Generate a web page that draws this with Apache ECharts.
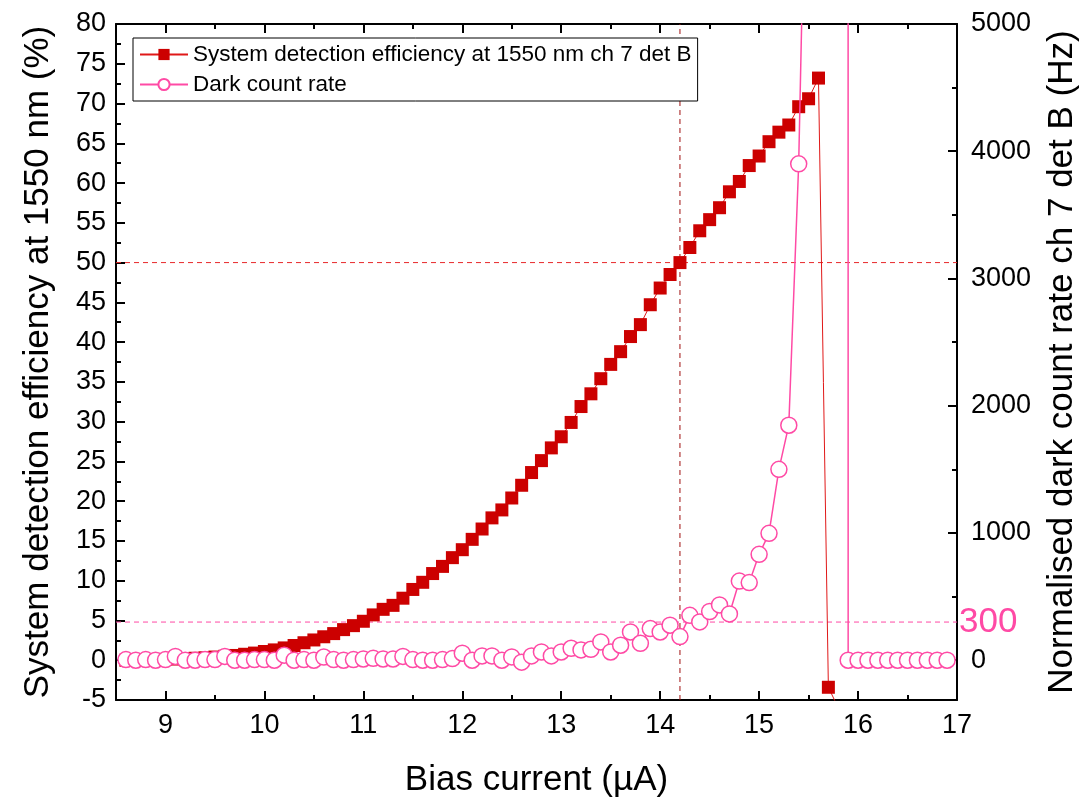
<!DOCTYPE html>
<html>
<head>
<meta charset="utf-8">
<title>SDE and dark count rate vs bias current</title>
<script src="https://cdn.jsdelivr.net/npm/echarts@6/dist/echarts.min.js"></script>
<style>
  html, body { margin: 0; padding: 0; background: #fff; }
  #chart { width: 1088px; height: 803px; }
</style>
</head>
<body>
<div id="chart"></div>
<script>
// Bias current steps (µA)
const biasCurrent = [
  8.6, 8.7, 8.8, 8.9, 9.0, 9.1, 9.2, 9.3, 9.4, 9.5, 9.6, 9.7, 9.8, 9.9,
  10.0, 10.1, 10.2, 10.3, 10.4, 10.5, 10.6, 10.7, 10.8, 10.9,
  11.0, 11.1, 11.2, 11.3, 11.4, 11.5, 11.6, 11.7, 11.8, 11.9,
  12.0, 12.1, 12.2, 12.3, 12.4, 12.5, 12.6, 12.7, 12.8, 12.9,
  13.0, 13.1, 13.2, 13.3, 13.4, 13.5, 13.6, 13.7, 13.8, 13.9,
  14.0, 14.1, 14.2, 14.3, 14.4, 14.5, 14.6, 14.7, 14.8, 14.9,
  15.0, 15.1, 15.2, 15.3, 15.4, 15.5, 15.6, 15.7, 15.8, 15.9,
  16.0, 16.1, 16.2, 16.3, 16.4, 16.5, 16.6, 16.7, 16.8, 16.9
];

// System detection efficiency at 1550 nm (%), one value per bias step up to 15.8 µA
const sdePercent = [
  0.0, 0.0, 0.05, 0.1, 0.1, 0.15, 0.2, 0.25, 0.3, 0.4, 0.5, 0.6, 0.75, 0.9,
  1.1, 1.3, 1.55, 1.85, 2.2, 2.55, 2.95, 3.35, 3.85, 4.35,
  4.9, 5.7, 6.4, 6.9, 7.8, 8.9, 9.8, 10.9, 11.8, 12.9,
  13.9, 15.2, 16.5, 17.9, 18.9, 20.4, 22.0, 23.6, 25.1, 26.7,
  28.1, 29.9, 31.9, 33.5, 35.4, 37.2, 38.8, 40.7, 42.2, 44.7,
  46.8, 48.5, 50.0, 51.9, 54.0, 55.4, 56.9, 58.9, 60.2, 62.2,
  63.4, 65.2, 66.4, 67.3, 69.6, 70.6, 73.2, -3.4, -6.0
];

// Normalised dark count rate (Hz); the detector latches above 15.5 µA
const darkCountHz = [
  5, 0, 5, 0, 5, 30, 0, 0, 5, 5, 30, 0, 0, 5,
  5, 0, 40, 0, 5, 0, 25, 5, 0, 5,
  10, 15, 10, 10, 30, 5, 0, 0, 5, 13,
  55, 0, 34, 34, 0, 26, -15, 34, 65, 34,
  65, 94, 81, 86, 144, 65, 118, 222, 133, 249,
  222, 275, 186, 353, 301, 383, 435, 364, 622, 610,
  832, 997, 1500, 1847, 3901, 7600, 200000, 600000, 1000000, 0,
  0, 0, 0, 0, 0, 0, 0, 0, 0, 0
];

// Axis ranges and ticks
const xRange = [8.5, 17];
const sdeRange = [-5, 80];
const darkRange = [-312.5, 5000];
const xMajorTicks = [9, 10, 11, 12, 13, 14, 15, 16, 17];
const xMinorTicks = [9.5, 10.5, 11.5, 12.5, 13.5, 14.5, 15.5, 16.5];
const rightMajorTicks = [0, 1000, 2000, 3000, 4000, 5000];
const rightMinorTicks = [500, 1500, 2500, 3500, 4500];

// Reference levels
const sdeTarget = 50;        // %
const biasAtTarget = 14.2;   // µA
const darkLimit = 300;       // Hz

const FONT = '"Liberation Sans", Arial, sans-serif';
const RED = '#cc0000';
const PINK = '#ff4aa5';
const TICK_FONT = 27;
const TITLE_FONT = 35;

const SDE_NAME = 'System detection efficiency at 1550 nm ch 7 det B';
const DARK_NAME = 'Dark count rate';

const sdeData = sdePercent.map((v, i) => [biasCurrent[i], v]);
const darkData = darkCountHz.map((v, i) => [biasCurrent[i], v]);

const baseAxisLine = { show: true, onZero: false, lineStyle: { color: '#000', width: 2 } };
const hiddenAxisLine = { show: false, onZero: false };

// dashed guide line drawn as a plain two-point series
function guide(data, yAxisIndex, color, extra) {
  return Object.assign({
    type: 'line', xAxisIndex: 0, yAxisIndex: yAxisIndex,
    data: data, symbol: 'none', silent: true, z: 1,
    lineStyle: { color: color, width: 1, type: [5, 4] },
    tooltip: { show: false }
  }, extra || {});
}

const chart = echarts.init(document.getElementById('chart'), null, { renderer: 'canvas' });

chart.setOption({
  animation: false,
  backgroundColor: '#fff',
  textStyle: { fontFamily: FONT },
  grid: { left: 116, right: 130, top: 24, bottom: 102, containLabel: false },
  legend: {
    orient: 'vertical',
    left: 133,
    top: 38,
    padding: [5, 6, 5, 6],
    itemGap: 7,
    itemWidth: 48,
    itemHeight: 14,
    borderColor: '#000',
    borderWidth: 1,
    borderRadius: 0,
    backgroundColor: '#fff',
    textStyle: { fontFamily: FONT, fontSize: 22.5, color: '#000' },
    data: [SDE_NAME, DARK_NAME]
  },
  xAxis: [
    {
      type: 'value', min: xRange[0], max: xRange[1], position: 'bottom',
      name: 'Bias current (µA)', nameLocation: 'middle', nameGap: 63,
      nameTextStyle: { fontFamily: FONT, fontSize: TITLE_FONT, color: '#000' },
      axisLine: baseAxisLine,
      axisTick: { show: true, inside: true, length: 9, lineStyle: { color: '#000', width: 2 }, customValues: xMajorTicks },
      axisLabel: { show: true, fontFamily: FONT, fontSize: TICK_FONT, color: '#000', margin: 12, customValues: xMajorTicks },
      splitLine: { show: false }
    },
    {
      type: 'value', min: xRange[0], max: xRange[1], position: 'bottom',
      axisLine: hiddenAxisLine,
      axisTick: { show: true, inside: true, length: 5, lineStyle: { color: '#000', width: 2 }, customValues: xMinorTicks },
      axisLabel: { show: false }, splitLine: { show: false }
    },
    {
      type: 'value', min: xRange[0], max: xRange[1], position: 'top',
      axisLine: baseAxisLine,
      axisTick: { show: true, inside: true, length: 9, lineStyle: { color: '#000', width: 2 }, customValues: xMajorTicks },
      axisLabel: { show: false }, splitLine: { show: false }
    },
    {
      type: 'value', min: xRange[0], max: xRange[1], position: 'top',
      axisLine: hiddenAxisLine,
      axisTick: { show: true, inside: true, length: 5, lineStyle: { color: '#000', width: 2 }, customValues: xMinorTicks },
      axisLabel: { show: false }, splitLine: { show: false }
    }
  ],
  yAxis: [
    {
      type: 'value', min: sdeRange[0], max: sdeRange[1], interval: 5, position: 'left',
      name: 'System detection efficiency at 1550 nm (%)', nameLocation: 'middle', nameGap: 60, nameRotate: 90,
      nameTextStyle: { fontFamily: FONT, fontSize: TITLE_FONT, color: '#000' },
      axisLine: baseAxisLine,
      axisTick: { show: true, inside: true, length: 9, lineStyle: { color: '#000', width: 2 } },
      minorTick: { show: true, splitNumber: 2, length: 5, lineStyle: { color: '#000', width: 2 } },
      axisLabel: { fontFamily: FONT, fontSize: TICK_FONT, color: '#000', margin: 10 },
      splitLine: { show: false }
    },
    {
      type: 'value', min: darkRange[0], max: darkRange[1], position: 'right',
      name: 'Normalised dark count rate ch 7 det B (Hz)', nameLocation: 'middle', nameGap: 88, nameRotate: 90,
      nameTextStyle: { fontFamily: FONT, fontSize: TITLE_FONT, color: '#000' },
      axisLine: baseAxisLine,
      axisTick: { show: true, inside: true, length: 9, lineStyle: { color: '#000', width: 2 }, customValues: rightMajorTicks },
      axisLabel: {
        fontFamily: FONT, fontSize: TICK_FONT, color: '#000', margin: 14,
        customValues: rightMajorTicks, formatter: (v) => String(v)
      },
      splitLine: { show: false }
    },
    {
      type: 'value', min: darkRange[0], max: darkRange[1], position: 'right',
      axisLine: hiddenAxisLine,
      axisTick: { show: true, inside: true, length: 5, lineStyle: { color: '#000', width: 2 }, customValues: rightMinorTicks },
      axisLabel: { show: false }, splitLine: { show: false }
    }
  ],
  series: [
    // 50 % efficiency level and the bias current where it is reached
    guide([[xRange[0], sdeTarget], [xRange[1], sdeTarget]], 0, '#e8282a'),
    guide([[biasAtTarget, sdeRange[0]], [biasAtTarget, sdeRange[1]]], 0, '#a01010'),
    // 300 Hz dark count limit
    guide([[xRange[0], darkLimit], [xRange[1], darkLimit]], 1, PINK, {
      endLabel: {
        show: true, formatter: String(darkLimit), color: PINK,
        fontSize: 35, fontFamily: FONT, distance: 2
      }
    }),
    {
      name: SDE_NAME,
      type: 'line',
      xAxisIndex: 0, yAxisIndex: 0,
      data: sdeData,
      clip: true,
      z: 3,
      symbol: 'rect',
      symbolSize: 13,
      itemStyle: { color: RED },
      lineStyle: { color: '#e01818', width: 1 }
    },
    {
      name: DARK_NAME,
      type: 'line',
      xAxisIndex: 0, yAxisIndex: 1,
      data: darkData,
      clip: true,
      z: 4,
      symbol: 'circle',
      symbolSize: 16,
      itemStyle: { color: '#fff', borderColor: PINK, borderWidth: 1.5 },
      lineStyle: { color: PINK, width: 1.5 }
    }
  ]
});
</script>
</body>
</html>
